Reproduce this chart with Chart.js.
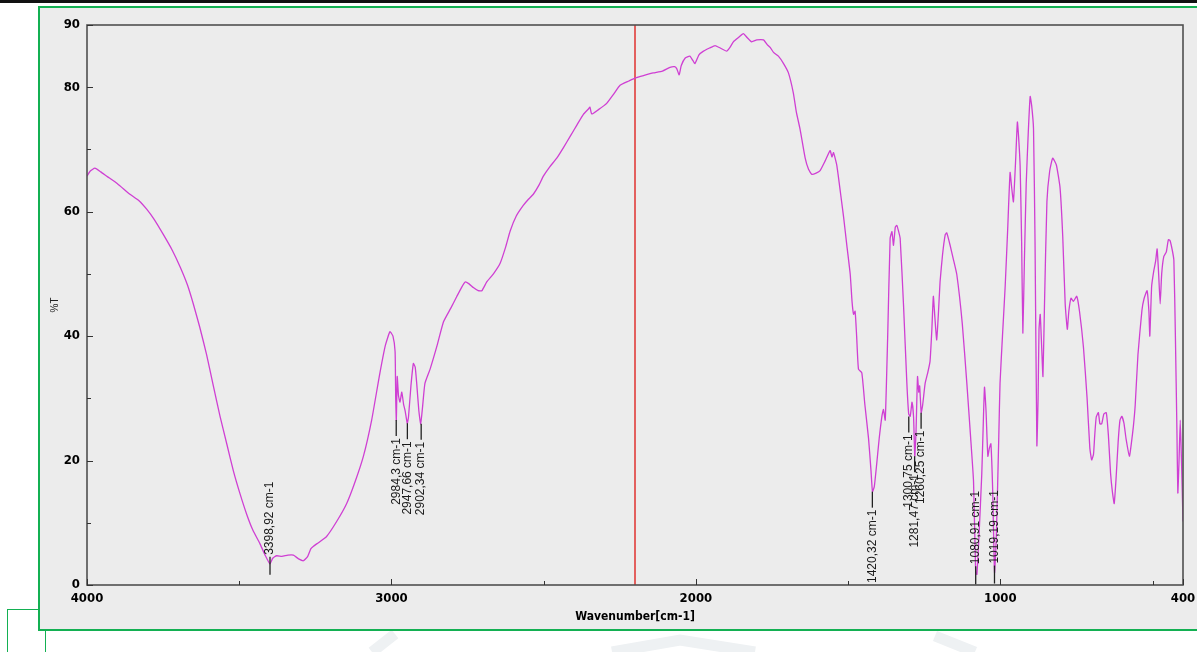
<!DOCTYPE html>
<html>
<head>
<meta charset="utf-8">
<script src="https://cdn.jsdelivr.net/npm/chart.js@4/dist/chart.umd.min.js"></script>
<style>
  html, body { margin: 0; padding: 0; background: #ffffff; }
  body { width: 1197px; height: 652px; position: relative; overflow: hidden; }
  #topbar { position: absolute; left: 0; top: 0; width: 1197px; height: 3px; background: #111; }
  #frame { position: absolute; left: 38px; top: 6px; width: 1180px; height: 621px; border: 2.5px solid #13b052; background: #ececec; }
  .gl { position: absolute; background: #13b052; }
  #wm { position: absolute; left: 0; top: 0; }
  #c { position: absolute; left: 0; top: 0; }
</style>
</head>
<body>
<div id="topbar"></div>
<svg id="wm" width="1197" height="652">
  <polyline points="372,652 395,634" fill="none" stroke="#eef1f3" stroke-width="11"/>
  <polyline points="612,652 680,640 755,652" fill="none" stroke="#eef1f3" stroke-width="11"/>
  <polyline points="935,636 975,652" fill="none" stroke="#eef1f3" stroke-width="11"/>
</svg>
<div id="frame"></div>
<div class="gl" style="left:7px;top:609px;width:32px;height:1px;"></div>
<div class="gl" style="left:7px;top:609px;width:1px;height:43px;"></div>
<div class="gl" style="left:45px;top:631px;width:1px;height:21px;"></div>
<canvas id="c" width="1197" height="652"></canvas>
<script>
// ---- data (wavenumber in cm-1, transmittance in %T) ----
const wavenumbers = [
4000,3990,3974,3955,3935,3900,3859,3830,3804,3780,3749,3720,3694,3670,3651,3630,3607,3585,3563,3540,
3519,3497,3475,3455,3432,3415,3399,3390,3377,3360,3340,3322,3305,3289,3275,3265,3257,3240,3213,3180,
3147,3120,3092,3065,3040,3020,3005,2995,2988,2986,2984,2981,2977,2972,2966,2960,2955,2948,2944,2936,
2928,2922,2917,2910,2904,2898,2890,2873,2850,2829,2805,2785,2770,2758,2745,2731,2715,2703,2687,2665,
2643,2625,2610,2590,2567,2550,2534,2515,2501,2480,2457,2435,2413,2390,2370,2353,2348,2342,2320,2293,
2270,2249,2220,2198,2170,2140,2110,2085,2070,2063,2055,2048,2035,2020,2010,2003,1990,1975,1955,1937,
1920,1899,1888,1877,1860,1844,1832,1817,1800,1778,1765,1756,1745,1729,1712,1696,1680,1670,1658,1641,
1630,1619,1605,1592,1575,1559,1553,1548,1537,1525,1515,1504,1493,1487,1482,1477,1472,1466,1455,1445,
1433,1425,1420,1414,1406,1398,1389,1384,1378,1370,1362,1356,1351,1345,1340,1335,1329,1318,1307,1301,
1296,1290,1285,1281,1277,1272,1268,1265,1260,1255,1247,1239,1231,1225,1220,1215,1209,1203,1198,1190,
1181,1176,1165,1155,1143,1125,1110,1098,1088,1081,1077,1070,1061,1056,1052,1047,1041,1036,1031,1025,
1019,1013,1005,1001,993,984,976,968,963,957,950,944,940,935,930,926,921,915,908,902,
897,891,886,880,876,873,869,864,860,855,847,838,828,816,804,795,787,780,775,768,
760,749,740,727,715,706,700,694,690,685,678,673,667,660,652,645,638,632,626,620,
613,607,601,594,587,576,569,563,557,548,535,528,518,512,509,503,496,490,485,480,
475,470,463,455,448,443,436,430,425,420,417,413,409,405,400
];
const transmittance = [
65.7,66.5,67.0,66.4,65.7,64.5,62.8,61.8,60.4,58.8,56.3,53.8,51.1,48.2,45.2,41.5,37.0,32.0,27.1,22.5,
18.3,14.6,11.3,8.8,6.65,4.8,3.4,4.3,4.7,4.6,4.8,4.8,4.2,3.9,4.6,5.8,6.2,6.8,7.8,10.2,
13.1,16.5,20.7,26.5,33.5,38.5,40.7,40.0,37.5,30.0,26.5,33.5,30.5,29.4,31.0,29.0,28.0,26.0,27.0,32.0,
35.6,35.0,32.4,28.0,25.9,28.5,32.4,34.7,38.5,42.3,44.5,46.4,47.8,48.7,48.4,47.8,47.3,47.3,48.7,50.0,
51.7,54.3,56.9,59.3,61.0,62.0,62.8,64.3,65.7,67.2,68.6,70.3,72.1,74.0,75.6,76.5,76.8,75.7,76.4,77.4,
78.9,80.3,81.0,81.5,81.9,82.3,82.6,83.2,83.3,83.0,82.0,83.5,84.7,85.0,84.3,83.8,85.2,85.8,86.3,86.7,
86.3,85.8,86.4,87.3,88.0,88.6,88.0,87.3,87.6,87.6,86.8,86.4,85.6,85.0,83.8,82.3,79.1,76.0,73.3,68.6,
66.8,66.0,66.2,66.6,68.2,69.8,68.8,69.5,67.4,63.0,59.2,54.5,49.9,45.5,43.5,44.0,40.0,34.7,34.1,29.0,
23.6,18.5,15.0,15.8,19.5,23.5,27.1,28.2,26.5,40.0,55.7,56.8,54.6,57.5,57.8,57.0,55.7,45.0,32.4,27.5,
27.1,29.4,27.0,20.7,24.5,33.5,31.0,32.0,27.7,29.0,32.4,34.0,35.9,41.0,46.4,43.0,39.4,44.0,48.7,53.0,
56.3,56.6,54.6,52.5,49.9,42.0,32.4,24.0,16.6,2.0,1.7,8.0,17.8,26.0,31.8,28.0,20.7,22.0,22.7,15.0,
2.0,8.0,24.0,32.4,40.0,48.1,57.0,66.3,64.0,61.6,68.0,74.4,72.0,67.4,55.0,40.5,52.0,64.5,73.0,78.5,
77.0,73.3,55.0,22.4,30.0,41.0,43.5,38.0,33.5,45.0,61.6,66.5,68.6,67.5,63.9,56.0,45.2,41.1,44.0,46.1,
45.6,46.4,44.0,38.2,30.0,22.0,20.1,21.0,24.0,27.0,27.7,25.9,25.9,27.5,27.7,24.0,18.0,15.0,13.1,17.0,
23.0,26.5,27.1,26.0,23.5,20.7,23.0,25.5,28.9,37.0,44.1,46.0,47.3,44.0,40.0,48.0,50.5,52.0,54.0,50.0,
45.2,50.0,52.8,53.5,55.5,55.4,54.0,52.2,40.0,25.0,14.8,20.0,26.5,20.0,10.2
];
const xTickValues = [4000, 3000, 2000, 1000, 400];
const xMinorTicks = [3500, 2500, 1500, 500];
const yTickValues = [0, 20, 40, 60, 80, 90];
const yMinorTicks = [10, 30, 50, 70];
const markerWavenumber = 2200;
const peakWavenumbers = [3398.92, 2984.3, 2947.66, 2902.34, 1420.32, 1300.75, 1281.47, 1260.25, 1080.91, 1019.19];
const peakTransmittance = [3.4, 26.5, 26.0, 25.9, 15.0, 27.1, 20.7, 27.7, 1.9, 2.0];
const peakLabelSide = ['up', 'down', 'down', 'down', 'down', 'down', 'down', 'down', 'up', 'up'];
const xTitle = 'Wavenumber[cm-1]';
const yTitle = '%T';

const tickFont = { family: "'Liberation Sans Narrow','DejaVu Sans Condensed','Liberation Sans',Arial,sans-serif", size: 13, weight: 'bold' };

const decorPlugin = {
  id: 'decor',
  beforeDatasetsDraw(chart) {
    const { ctx, chartArea: a, scales: { x } } = chart;
    ctx.save();
    const rx = x.getPixelForValue(markerWavenumber);
    ctx.strokeStyle = '#e0322f';
    ctx.lineWidth = 1.5;
    ctx.beginPath(); ctx.moveTo(rx, a.top); ctx.lineTo(rx, a.bottom); ctx.stroke();
    ctx.restore();
  },
  afterDatasetsDraw(chart) {
    const { ctx, chartArea: a, scales: { x, y } } = chart;
    ctx.save();
    ctx.strokeStyle = '#505050';
    ctx.lineWidth = 1.6;
    ctx.strokeRect(a.left, a.top, a.right - a.left, a.bottom - a.top);
    ctx.lineWidth = 1;
    ctx.strokeStyle = '#333';
    ctx.beginPath();
    xTickValues.forEach(v => { const px = Math.round(x.getPixelForValue(v)) + 0.5; ctx.moveTo(px, a.bottom); ctx.lineTo(px, a.bottom - 6); });
    xMinorTicks.forEach(v => { const px = Math.round(x.getPixelForValue(v)) + 0.5; ctx.moveTo(px, a.bottom); ctx.lineTo(px, a.bottom - 4); });
    yTickValues.forEach(v => { const py = Math.round(y.getPixelForValue(v)) + 0.5; ctx.moveTo(a.left, py); ctx.lineTo(a.left + 6, py); });
    yMinorTicks.forEach(v => { const py = Math.round(y.getPixelForValue(v)) + 0.5; ctx.moveTo(a.left, py); ctx.lineTo(a.left + 4, py); });
    ctx.stroke();
    ctx.font = "12px 'Liberation Sans', Arial, sans-serif";
    ctx.fillStyle = '#1a1a1a';
    ctx.strokeStyle = '#222';
    ctx.lineWidth = 1.3;
    peakWavenumbers.forEach((w, i) => {
      const px = x.getPixelForValue(w);
      const py = y.getPixelForValue(peakTransmittance[i]);
      const text = w.toFixed(2).replace(/0$/, '').replace('.', ',') + ' cm-1';
      ctx.beginPath();
      if (peakLabelSide[i] === 'down') {
        ctx.moveTo(px, py); ctx.lineTo(px, py + 16); ctx.stroke();
        ctx.save(); ctx.translate(px, py + 18); ctx.rotate(-Math.PI / 2);
        ctx.textAlign = 'right'; ctx.textBaseline = 'middle';
        ctx.fillText(text, 0, 0); ctx.restore();
      } else {
        ctx.moveTo(px, py + 11); ctx.lineTo(px, py - 7); ctx.stroke();
        ctx.save(); ctx.translate(px, py - 9); ctx.rotate(-Math.PI / 2);
        ctx.textAlign = 'left'; ctx.textBaseline = 'middle';
        ctx.fillText(text, 0, 0); ctx.restore();
      }
    });
    ctx.restore();
  }
};

new Chart(document.getElementById('c'), {
  type: 'line',
  data: {
    datasets: [{
      data: wavenumbers.map((w, i) => ({ x: w, y: transmittance[i] })),
      borderColor: '#cf3fd3',
      borderWidth: 1.3,
      pointRadius: 0,
      tension: 0.15,
      fill: false
    }]
  },
  options: {
    responsive: false,
    animation: false,
    events: [],
    layout: { padding: { left: 40, right: 14, top: 25, bottom: 0 } },
    plugins: { legend: { display: false }, tooltip: { enabled: false } },
    scales: {
      x: {
        type: 'linear', min: 400, max: 4000, reverse: true,
        afterBuildTicks: s => { s.ticks = xTickValues.map(v => ({ value: v })); },
        afterFit: s => { s.height = 67; s.paddingLeft = 0; s.paddingRight = 0; },
        grid: { display: false, drawTicks: false },
        border: { display: false },
        ticks: { font: tickFont, color: '#000', padding: 6, maxRotation: 0, autoSkip: false, callback: v => String(v) },
        title: { display: true, text: xTitle, color: '#000', font: { family: tickFont.family, size: 12, weight: 'bold' }, padding: { top: 0, bottom: 28 } }
      },
      y: {
        min: 0, max: 90,
        afterBuildTicks: s => { s.ticks = yTickValues.map(v => ({ value: v })); },
        afterFit: s => { s.width = 47; s.paddingTop = 0; s.paddingBottom = 0; },
        grid: { display: false, drawTicks: false },
        border: { display: false },
        ticks: { font: tickFont, color: '#000', padding: 7, autoSkip: false, callback: v => String(v) },
        title: { display: true, text: yTitle, color: '#222', font: { family: "'Liberation Sans', Arial, sans-serif", size: 10 }, padding: { top: 9, bottom: 0 } }
      }
    }
  },
  plugins: [decorPlugin]
});
</script>
</body>
</html>
